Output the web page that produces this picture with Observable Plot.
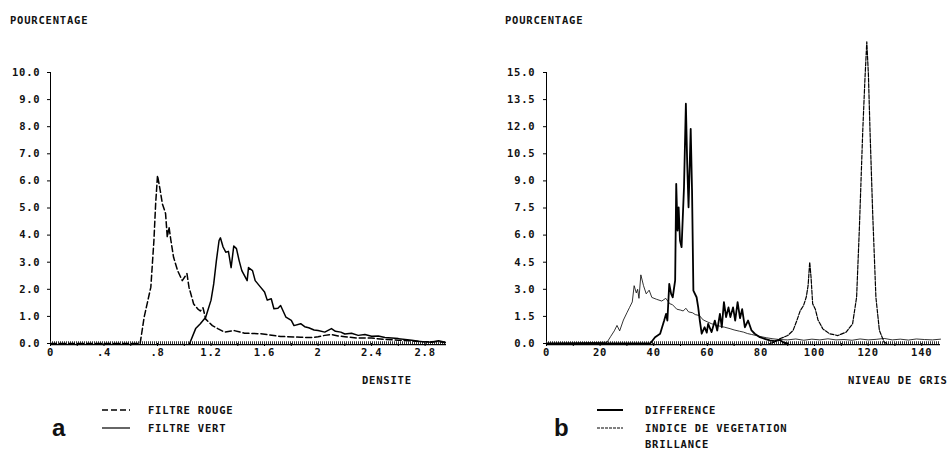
<!DOCTYPE html>
<html>
<head>
<meta charset="utf-8">
<script src="https://cdn.jsdelivr.net/npm/d3@7"></script>
<script src="https://cdn.jsdelivr.net/npm/@observablehq/plot@0.6"></script>
<style>
  html, body { margin: 0; padding: 0; background: #fff; }
  #wrap { position: relative; width: 952px; height: 451px; overflow: hidden; background: #fff; }
  #wrap svg.plot { position: absolute; top: 0; overflow: visible; }
  #wrap svg text { font-family: "DejaVu Sans Mono", monospace; font-weight: bold; font-size: 10.5px; letter-spacing: 0.8px; fill: #111; }
  .lbl { position: absolute; font-family: "DejaVu Sans Mono", monospace; font-weight: bold; font-size: 10.5px; letter-spacing: 0.8px; color: #111; white-space: nowrap; line-height: 1; transform: translateY(-50%); }
  .big { position: absolute; font-family: "Liberation Sans", Arial, sans-serif; font-weight: bold; font-size: 24px; color: #111; line-height: 1; }
  .sw { position: absolute; }
</style>
</head>
<body>
<div id="wrap"></div>
<script>
// ---------- Panel a : DENSITE ----------
const xTicksA = [0, 0.2, 0.4, 0.6, 0.8, 1.0, 1.2, 1.4, 1.6, 1.8, 2.0, 2.2, 2.4, 2.6, 2.8];
const xTickLabelsA = ["0", "", ".4", "", ".8", "", "1.2", "", "1.6", "", "2", "", "2.4", "", "2.8"];
const yTicksA = [0, 1, 2, 3, 4, 5, 6, 7, 8, 9, 10];

const filtreRouge = [[0,0],[0.67,0],[0.70,0.97],[0.75,2.08],[0.773,3.8],[0.786,5.16],[0.80,6.2],[0.82,5.65],[0.836,5.16],[0.86,4.8],[0.873,3.92],[0.886,4.3],[0.90,3.8],[0.92,3.18],[0.95,2.69],[0.985,2.32],[1.02,2.58],[1.035,2.08],[1.07,1.46],[1.10,1.28],[1.12,1.2],[1.14,1.32],[1.16,0.9],[1.21,0.66],[1.25,0.55],[1.30,0.42],[1.37,0.48],[1.45,0.38],[1.57,0.36],[1.72,0.26],[1.87,0.23],[1.95,0.22],[2.0,0.25],[2.05,0.3],[2.1,0.33],[2.15,0.28],[2.2,0.25],[2.3,0.2],[2.4,0.2],[2.5,0.15],[2.6,0.12],[2.7,0.1],[2.8,0.06],[2.9,0.08],[2.95,0.03]];

const filtreVert = [[1.04,0],[1.085,0.55],[1.12,0.73],[1.16,0.97],[1.20,1.6],[1.22,2.2],[1.24,3.06],[1.26,3.8],[1.27,3.9],[1.29,3.56],[1.31,3.37],[1.33,3.4],[1.35,2.8],[1.37,3.6],[1.39,3.5],[1.41,3.06],[1.43,2.69],[1.47,2.32],[1.48,2.8],[1.51,2.69],[1.53,2.32],[1.57,2.08],[1.60,1.9],[1.62,1.6],[1.65,1.65],[1.67,1.28],[1.70,1.3],[1.72,1.4],[1.76,0.97],[1.80,0.85],[1.82,0.66],[1.87,0.73],[1.9,0.62],[1.93,0.58],[1.97,0.5],[2.0,0.48],[2.05,0.42],[2.1,0.55],[2.13,0.45],[2.17,0.42],[2.2,0.35],[2.25,0.38],[2.3,0.3],[2.35,0.33],[2.4,0.27],[2.45,0.28],[2.5,0.22],[2.55,0.2],[2.6,0.18],[2.65,0.15],[2.7,0.12],[2.75,0.08],[2.8,0.06],[2.85,0.05],[2.9,0.1],[2.95,0.05]];

// ---------- Panel b : NIVEAU DE GRIS ----------
const xTicksB = [0, 10, 20, 30, 40, 50, 60, 70, 80, 90, 100, 110, 120, 130, 140];
const xTickLabelsB = ["0", "", "20", "", "40", "", "60", "", "80", "", "100", "", "120", "", "140"];
const yTicksB = [0, 1.5, 3, 4.5, 6, 7.5, 9, 10.5, 12, 13.5, 15];

const difference = [[0,0],[38.7,0],[40.5,0.35],[42.4,0.54],[43.9,1.27],[44.6,1.64],[45.1,1.27],[45.8,3.3],[46.5,2.75],[47.1,2.56],[48,3.49],[48.4,8.84],[48.9,6.25],[49.3,7.54],[49.8,5.7],[50.4,5.33],[51.3,8.65],[52.0,13.27],[52.5,9.94],[53.0,7.54],[53.8,11.88],[54.3,8.47],[54.8,2.93],[56,2.56],[56.6,2.0],[57.2,1.27],[57.9,0.54],[59,0.9],[59.8,0.6],[60.3,1.09],[61.6,0.63],[62.8,1.27],[63.7,0.72],[64.7,1.64],[65.4,0.9],[66.2,2.29],[67,1.46],[67.9,2.0],[68.6,1.46],[69.6,2.0],[70.4,1.27],[71.3,2.29],[72.2,1.4],[73,1.9],[74,0.9],[75.2,1.27],[76.5,0.72],[77.7,0.54],[79.6,0.35],[81.4,0.26],[83.3,0.17],[85.1,0.13],[87,0.2],[88.5,0.05],[90,0]];

const indiceVegetation = [[83.3,0],[85,0.07],[87,0.26],[90,0.44],[92,0.72],[93.4,1.27],[94.7,1.83],[95.9,2.1],[96.9,2.56],[97.6,3.2],[98.2,4.5],[98.7,3.67],[99.3,2.2],[100.3,1.9],[101.3,1.3],[103.1,0.81],[105.6,0.54],[108.7,0.44],[111.8,0.63],[114.2,1.09],[115.7,2.56],[116.7,6.25],[118,11.8],[118.8,14.6],[119.5,16.7],[120.1,14.9],[120.7,11.8],[121.7,7.2],[122.9,2.56],[124.2,0.72],[126,0.07],[127,0]];

const brillance = [[0,0],[22.6,0.07],[24,0.4],[25.3,0.7],[26.3,1.0],[27.3,0.7],[28.7,1.3],[30,1.7],[31,2.0],[32,2.3],[32.7,3.2],[33.5,2.8],[34,3.0],[34.5,2.5],[35.2,3.8],[36.2,3.2],[37.2,2.75],[38.3,2.95],[39.3,2.55],[41,2.45],[43,2.35],[44.5,2.5],[46,2.2],[47,2.15],[48.6,1.9],[50,1.85],[51,1.8],[52,1.95],[53,1.75],[54.5,1.7],[55.5,1.6],[57,1.55],[58.5,1.3],[60,1.2],[61.5,1.1],[63.5,1.0],[65,0.95],[66.5,0.9],[68.5,0.82],[70,0.75],[72,0.68],[73.5,0.63],[75,0.55],[76.5,0.5],[78.3,0.44],[80,0.38],[82,0.32],[84.5,0.26],[87,0.22],[90,0.2],[93,0.25],[96,0.18],[99,0.24],[102,0.2],[105,0.26],[108,0.2],[111,0.22],[114,0.18],[117,0.25],[120,0.2],[123,0.23],[126,0.28],[129,0.2],[132,0.24],[135,0.19],[138,0.25],[141,0.22],[144,0.2],[147,0.24]];

const toRows = (arr) => arr.map(([x, y]) => ({x, y}));

function baseline() {
  return [
    Plot.ruleY([0], {stroke: "#333", strokeWidth: 3.5, strokeDasharray: "1,1", dy: -0.5}),
    Plot.ruleY([0], {stroke: "#000", strokeWidth: 1.2, dy: 1.2})
  ];
}

const plotA = Plot.plot({
  width: 476, height: 451,
  marginLeft: 50, marginRight: 30, marginTop: 72, marginBottom: 108,
  x: {domain: [0, 2.96], ticks: xTicksA, tickFormat: (d, i) => xTickLabelsA[i], tickSize: 3, tickPadding: 2, label: null},
  y: {domain: [0, 10], ticks: yTicksA, tickFormat: d => d.toFixed(1), tickSize: 3, tickPadding: 7, line: true, label: null},
  marks: [
    ...baseline(),
    Plot.line(toRows(filtreRouge), {x: "x", y: "y", stroke: "#000", strokeWidth: 1.5, strokeDasharray: "6,3"}),
    Plot.line(toRows(filtreVert), {x: "x", y: "y", stroke: "#000", strokeWidth: 1.5})
  ]
});
plotA.classList.add("plot");
plotA.style.left = "0px";

const plotB = Plot.plot({
  width: 476, height: 451,
  marginLeft: 70, marginRight: 12, marginTop: 72, marginBottom: 108,
  x: {domain: [0, 147], ticks: xTicksB, tickFormat: (d, i) => xTickLabelsB[i], tickSize: 3, tickPadding: 2, label: null},
  y: {domain: [0, 15], ticks: yTicksB, tickFormat: d => d.toFixed(1), tickSize: 3, tickPadding: 8, line: true, label: null},
  marks: [
    ...baseline(),
    Plot.line(toRows(brillance), {x: "x", y: "y", stroke: "#000", strokeWidth: 0.8}),
    Plot.line(toRows(indiceVegetation), {x: "x", y: "y", stroke: "#000", strokeWidth: 1.2, strokeDasharray: "4,1.5"}),
    Plot.line(toRows(difference), {x: "x", y: "y", stroke: "#000", strokeWidth: 1.8})
  ]
});
plotB.classList.add("plot");
plotB.style.left = "476px";

const wrap = document.getElementById("wrap");
wrap.appendChild(plotA);
wrap.appendChild(plotB);

// ---------- texts ----------
const labels = [
  {t: "POURCENTAGE", x: 10, y: 20},
  {t: "POURCENTAGE", x: 505, y: 20},
  {t: "DENSITE", x: 362, y: 380},
  {t: "NIVEAU DE GRIS", x: 848, y: 380},
  {t: "FILTRE ROUGE", x: 148, y: 410},
  {t: "FILTRE VERT", x: 148, y: 428},
  {t: "DIFFERENCE", x: 645, y: 410},
  {t: "INDICE DE VEGETATION", x: 645, y: 428},
  {t: "BRILLANCE", x: 645, y: 444}
];
for (const l of labels) {
  const d = document.createElement("div");
  d.className = "lbl";
  d.textContent = l.t;
  d.style.left = l.x + "px";
  d.style.top = l.y + "px";
  wrap.appendChild(d);
}
const bigs = [{t: "a", x: 52, y: 416}, {t: "b", x: 554, y: 416}];
for (const b of bigs) {
  const d = document.createElement("div");
  d.className = "big";
  d.textContent = b.t;
  d.style.left = b.x + "px";
  d.style.top = b.y + "px";
  wrap.appendChild(d);
}
// legend swatches
const swatches = [
  {x: 102, y: 410, w: 28, sw: 1.5, dash: "6,3"},
  {x: 102, y: 428, w: 28, sw: 1.2, dash: null},
  {x: 597, y: 410, w: 26, sw: 2, dash: null},
  {x: 597, y: 428, w: 26, sw: 1, dash: "3,1"}
];
for (const s of swatches) {
  const svg = d3.create("svg").attr("class", "sw").attr("width", s.w).attr("height", 6)
    .style("left", s.x + "px").style("top", (s.y - 3) + "px");
  svg.append("line").attr("x1", 0).attr("x2", s.w).attr("y1", 3).attr("y2", 3)
    .attr("stroke", "#000").attr("stroke-width", s.sw).attr("stroke-dasharray", s.dash);
  wrap.appendChild(svg.node());
}
</script>
</body>
</html>
